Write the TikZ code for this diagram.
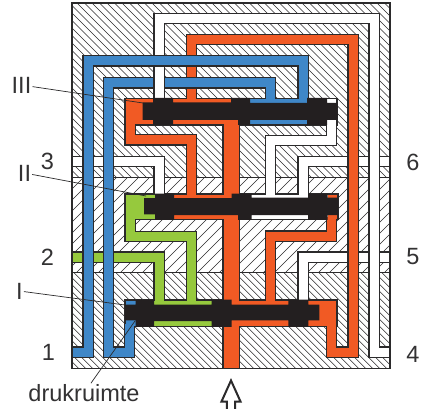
\documentclass[tikz,border=0pt]{standalone}
\usepackage{fontspec}
\setmainfont{Liberation Sans}
\definecolor{ink}{HTML}{2B2A2B}
\definecolor{txt}{HTML}{333233}
\definecolor{spool}{HTML}{231F20}
\definecolor{oilO}{HTML}{F15A24}
\definecolor{oilB}{HTML}{3F87C8}
\definecolor{oilG}{HTML}{96C93D}
\tikzset{
  wall/.style={draw=ink,line width=11.5pt},
  core/.style={line width=9pt},
  hatchline/.style={draw=ink,line width=0.6pt},
  chamber/.style={draw=ink,line width=1.3pt,fill=white},
  spoolbody/.style={fill=spool},
  casing/.style={draw=ink,line width=1.5pt},
  leader/.style={draw=ink,line width=0.7pt},
  lab/.style={font=\fontsize{23.5}{24}\selectfont,text=txt,inner sep=1pt},
  inarrow/.style={draw=ink,line width=2pt,fill=white}
}
\newcommand{\chan}[2]{\draw[wall] #2; \draw[core,draw=#1] #2;}
\begin{document}
\begin{tikzpicture}[x=1pt,y=-1pt]
\useasboundingbox (0,0) rectangle (423,409);
\fill[white] (0,0) rectangle (423,409);
% hatching
\begin{scope}
\clip (72,3) rectangle (390,178);
\foreach \i in {-103,-95.5,...,390} {\draw[hatchline] (\i,3) -- (\i+175,178);}
\end{scope}
\begin{scope}
\clip (72,178) rectangle (390,272.7);
\foreach \i in {72,83,...,500} {\draw[hatchline] (\i,178) -- (\i-95,273);}
\end{scope}
\begin{scope}
\clip (72,272.7) rectangle (390,368);
\foreach \i in {-24,-17,...,390} {\draw[hatchline] (\i,272.7) -- (\i+96,368.7);}
\end{scope}
\draw[casing] (72,177.7) -- (390,177.7);
\draw[casing] (72,272.7) -- (390,272.7);
% chambers
\draw[chamber] (125,98.5) rectangle (337,125);
\draw[chamber] (125,194) rectangle (338,219.3);
\draw[chamber] (125,300) rectangle (337,326.3);
% side ports
\chan{white}{(72,161.7) -- (159,161.7) -- (159,196)}
\chan{white}{(390,161.7) -- (303,161.7) -- (303,196)}
\chan{white}{(390,257) -- (303,257) -- (303,301)}
\chan{oilG}{(72,257) -- (159,257) -- (159,302)}
\chan{oilG}{(130,217) -- (130,236.5) -- (191.3,236.5) -- (191.3,302)}
% inner links
\chan{white}{(331.7,123) -- (331.7,140.3) -- (270.3,140.3) -- (270.3,196)}
\chan{oilO}{(331.7,217) -- (331.7,236) -- (270.3,236) -- (270.3,302)}
\chan{oilO}{(130,123) -- (130,140) -- (191.3,140) -- (191.3,196)}
% orange top loop
\chan{oilO}{(331.7,324) -- (331.7,352) -- (353,352) -- (353,39.7) -- (191.3,39.7) -- (191.3,100)}
% inner blue
\chan{oilB}{(129.7,324) -- (129.7,352) -- (108.7,352) -- (108.7,83) -- (270.3,83) -- (270.3,100)}
% long white
\chan{white}{(159,100) -- (159,18.5) -- (374,18.5) -- (374,352) -- (390,352)}
% outer blue
\chan{oilB}{(72,352) -- (88,352) -- (88,61) -- (303,61) -- (303,100)}
% riser
\draw[draw=ink,line width=17.5pt] (231,368) -- (231,123);
\draw[draw=oilO,line width=15pt] (231,368) -- (231,123);
% chamber III interior
\fill[oilO] (125.65,99.15) rectangle (238,124.35);
\fill[oilB] (250,99.15) rectangle (307,124.35);
\fill[white] (307,99.15) rectangle (336.35,124.35);
\fill[spoolbody] (142.7,102.5) -- (153,102.5) -- (153,98) -- (173,98) -- (173,102.5) -- (231,102.5) -- (231,98) -- (250,98) -- (250,103) -- (307,103) -- (307,98) -- (327,98) -- (327,103) -- (337.7,103) -- (337.7,120) -- (327,120) -- (327,125) -- (307,125) -- (307,120) -- (250,120) -- (250,125) -- (238,125) -- (238,120) -- (173,120) -- (173,125) -- (153,125) -- (153,120) -- (142.7,120) -- cycle;
% chamber II interior
\fill[oilG] (125.65,194.65) rectangle (155,218.65);
\fill[oilO] (174,194.65) rectangle (238,218.65);
\fill[white] (251,194.65) rectangle (308,218.65);
\fill[oilO] (327.7,194.65) rectangle (337.35,218.65);
\fill[spoolbody] (144,198) -- (155,198) -- (155,193.5) -- (174,193.5) -- (174,198) -- (231.7,198) -- (231.7,193.5) -- (251.7,193.5) -- (251.7,197.7) -- (308,197.7) -- (308,193.5) -- (327.7,193.5) -- (327.7,197.7) -- (338.3,197.7) -- (338.3,215) -- (327.7,215) -- (327.7,219.8) -- (308,219.8) -- (308,215) -- (251.7,215) -- (251.7,219.8) -- (238,219.8) -- (238,215) -- (174,215) -- (174,219.8) -- (155,219.8) -- (155,214.3) -- (144,214.3) -- cycle;
% chamber I interior
\fill[oilB] (125.65,300.65) rectangle (136,325.65);
\fill[oilG] (154,300.65) rectangle (212,325.65);
\fill[oilO] (231,300.65) rectangle (336.35,325.65);
\fill[spoolbody] (125,304.5) -- (135.7,304.5) -- (135.7,299.5) -- (154,299.5) -- (154,304.5) -- (211.7,304.5) -- (211.7,299.5) -- (231.7,299.5) -- (231.7,304.5) -- (288.3,304.5) -- (288.3,299.5) -- (308.3,299.5) -- (308.3,304.5) -- (319.3,304.5) -- (319.3,320.3) -- (308.3,320.3) -- (308.3,326.8) -- (288.3,326.8) -- (288.3,320.3) -- (231.7,320.3) -- (231.7,326.8) -- (211.7,326.8) -- (211.7,321) -- (154,321) -- (154,326.8) -- (135.7,326.8) -- (135.7,320.3) -- (125,320.3) -- cycle;
% casing
\draw[casing] (72,3) rectangle (390,368.3);
% inlet arrow
\draw[inarrow] (231,380.5) -- (240.5,401.5) -- (235.2,401.5) -- (235.2,412) -- (226.8,412) -- (226.8,401.5) -- (221.5,401.5) -- cycle;
% labels
\node[lab] (lIII) at (21.5,85) {III};
\node[lab] (lII) at (24.5,173) {II};
\node[lab] (lI) at (19.5,291) {I};
\node[lab] (l3) at (47.5,161) {3};
\node[lab] (l2) at (47.5,257) {2};
\node[lab] (l1) at (48.5,352) {1};
\node[lab] (l6) at (413,162.5) {6};
\node[lab] (l5) at (413,257) {5};
\node[lab] (l4) at (413,354.5) {4};
\node[lab] (ldruk) at (84,393) {drukruimte};
\coordinate (tIII) at (143,103);
\coordinate (tII) at (146,196);
\coordinate (tI) at (125,305);
\coordinate (tdruk) at (135,321);
\draw[leader] (lIII) -- (tIII);
\draw[leader] (lII) -- (tII);
\draw[leader] (lI) -- (tI);
\draw[leader] (ldruk) -- (tdruk);
\end{tikzpicture}
\end{document}
